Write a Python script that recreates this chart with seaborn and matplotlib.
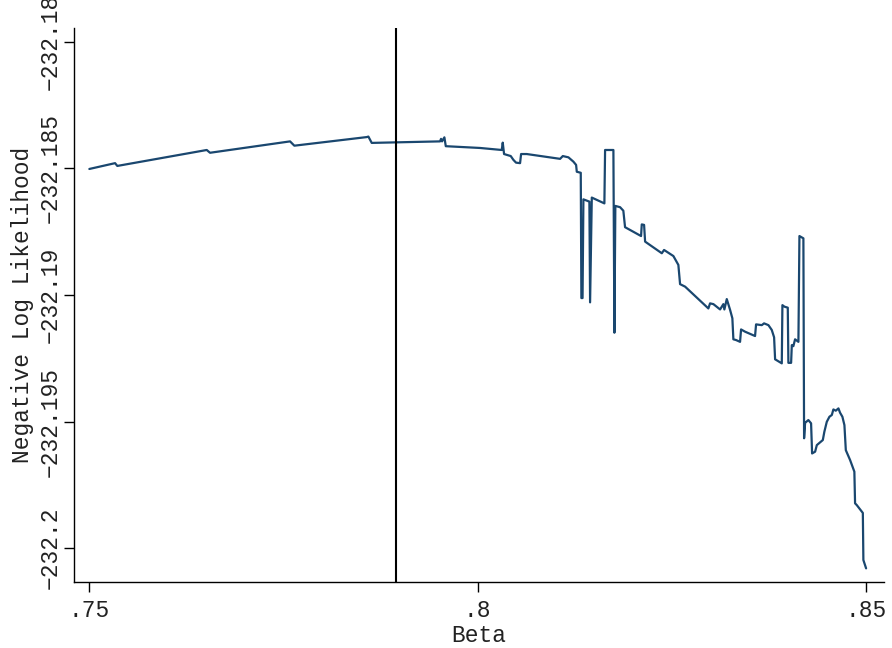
import matplotlib
matplotlib.use("Agg")
import matplotlib.pyplot as plt
import seaborn as sns
import pandas as pd

# values
beta = [
    0.75004, 0.75335, 0.75364, 0.76515, 0.76557, 0.77587, 0.77642, 0.78574,
    0.78595, 0.78638, 0.79517, 0.79530, 0.79543, 0.79573, 0.79591, 0.80032,
    0.80311, 0.80324, 0.80341, 0.80427, 0.80461, 0.80495, 0.80547, 0.80560,
    0.80633, 0.81062, 0.81097, 0.81169, 0.81233, 0.81268, 0.81277, 0.81328,
    0.81336, 0.81351, 0.81362, 0.81439, 0.81448, 0.81470, 0.81632, 0.81641,
    0.81748, 0.81761, 0.81773, 0.81834, 0.81876, 0.81898, 0.82104, 0.82113,
    0.82143, 0.82156, 0.82371, 0.82400, 0.82520, 0.82584, 0.82606, 0.82671,
    0.82970, 0.82992, 0.83035, 0.83121, 0.83163, 0.83176, 0.83207, 0.83250,
    0.83279, 0.83292, 0.83327, 0.83378, 0.83391, 0.83443, 0.83571, 0.83584,
    0.83658, 0.83687, 0.83743, 0.83786, 0.83816, 0.83829, 0.83915, 0.83923,
    0.83949, 0.83992, 0.84000, 0.84035, 0.84044, 0.84064, 0.84086, 0.84129,
    0.84142, 0.84193, 0.84202, 0.84215, 0.84257, 0.84292, 0.84305, 0.84344,
    0.84366, 0.84443, 0.84463, 0.84494, 0.84528, 0.84559, 0.84579, 0.84610,
    0.84644, 0.84665, 0.84695, 0.84721, 0.84739, 0.84794, 0.84849, 0.84858,
    0.84880, 0.84958, 0.84965, 0.85000,
]
neg_loglik = [
    -232.18502, -232.18479, -232.18490, -232.18427, -232.18438, -232.18393, -232.18410, -232.18376,
    -232.18374, -232.18399, -232.18393, -232.18383, -232.18393, -232.18377, -232.18412, -232.18419,
    -232.18427, -232.18398, -232.18443, -232.18451, -232.18466, -232.18477, -232.18479, -232.18443,
    -232.18443, -232.18462, -232.18451, -232.18456, -232.18473, -232.18486, -232.18513, -232.18517,
    -232.19012, -232.19012, -232.18622, -232.18631, -232.19029, -232.18615, -232.18638, -232.18427,
    -232.18427, -232.19149, -232.18648, -232.18653, -232.18667, -232.18732, -232.18767, -232.18721,
    -232.18723, -232.18789, -232.18835, -232.18822, -232.18846, -232.18881, -232.18957, -232.18967,
    -232.19053, -232.19033, -232.19036, -232.19057, -232.19036, -232.19057, -232.19016, -232.19059,
    -232.19092, -232.19175, -232.19178, -232.19185, -232.19136, -232.19145, -232.19162, -232.19116,
    -232.19119, -232.19112, -232.19119, -232.19138, -232.19167, -232.19254, -232.19270, -232.19040,
    -232.19046, -232.19050, -232.19268, -232.19268, -232.19198, -232.19202, -232.19175, -232.19185,
    -232.18767, -232.18776, -232.19566, -232.19505, -232.19494, -232.19507, -232.19626, -232.19619,
    -232.19593, -232.19573, -232.19540, -232.19501, -232.19481, -232.19474, -232.19452, -232.19457,
    -232.19448, -232.19465, -232.19481, -232.19514, -232.19613, -232.19652, -232.19698, -232.19823,
    -232.19830, -232.19861, -232.20047, -232.20080,
]
beta_hat = 0.7895

x_ticks = [0.75, 0.80, 0.85]
x_tick_labels = [".75", ".8", ".85"]
y_ticks = [-232.18, -232.185, -232.19, -232.195, -232.2]
y_tick_labels = ["\u2212232.18", "\u2212232.185", "\u2212232.19", "\u2212232.195", "\u2212232.2"]

df = pd.DataFrame({"beta": beta, "nll": neg_loglik})

sns.set_style("white")
plt.rcParams["font.family"] = ["Liberation Mono", "DejaVu Sans Mono"]
plt.rcParams["font.size"] = 16.5

fig = plt.figure(figsize=(8.92, 6.48), dpi=100)
ax = fig.add_axes([0.083, 0.1018, 0.908, 0.8550])

sns.lineplot(data=df, x="beta", y="nll", sort=False, color="#1a476f",
             linewidth=1.6, ax=ax)
ax.axvline(beta_hat, color="black", linewidth=1.5)

ax.set_xlim(0.74807, 0.8523)
ax.set_ylim(-232.20134, -232.17945)

ax.set_xticks(x_ticks)
ax.set_xticklabels(x_tick_labels)
ax.set_yticks(y_ticks)
ax.set_yticklabels(y_tick_labels, rotation=90, va="center")

ax.tick_params(axis="both", direction="out", length=7, width=1.0,
               color="black", labelsize=16.5, labelcolor="#222222",
               bottom=True, left=True)
ax.tick_params(axis="x", pad=5)
ax.tick_params(axis="y", pad=2)

ax.set_xlabel("Beta", fontsize=16.5, color="#222222", labelpad=2)
ax.set_ylabel("Negative Log Likelihood", fontsize=16.5, color="#222222", labelpad=3)

for side in ("top", "right"):
    ax.spines[side].set_visible(False)
for side in ("left", "bottom"):
    ax.spines[side].set_color("black")
    ax.spines[side].set_linewidth(1.0)

fig.savefig("out.png", dpi=100, facecolor="white")
